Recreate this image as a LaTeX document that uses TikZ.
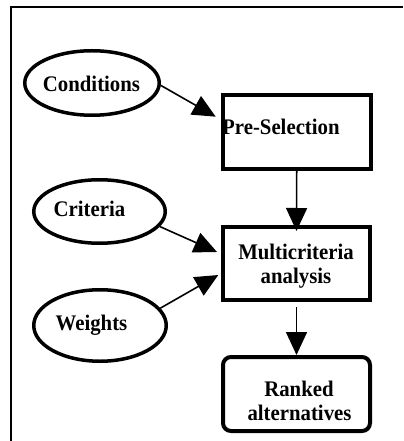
\documentclass[tikz,border=0pt]{standalone}
\usepackage{fontspec}
\setmainfont{Liberation Serif}
\usetikzlibrary{shapes.geometric,arrows.meta}
\newcommand{\tallt}[1]{\scalebox{1}[1.07]{#1}}
\begin{document}
\begin{tikzpicture}[x=1bp,y=-1bp,
 oval/.style={ellipse,draw,line width=3.5bp,inner sep=0pt},
 boxnode/.style={rectangle,draw,line width=4bp,inner sep=0pt,minimum width=147bp,minimum height=73.5bp},
 lbl/.style={font=\fontsize{20.8bp}{25bp}\selectfont\bfseries,inner sep=0pt,anchor=base},
 arr/.style={line width=1.6bp,-{Triangle[length=23bp,width=21bp]}}]
\useasboundingbox (0,0) rectangle (403,441);
\draw[line width=2bp] (11,441) -- (11,6.8) -- (403,6.8);
% ellipses
\node[oval,minimum width=134.5bp,minimum height=64.5bp] (cond) at (92,83) {};
\node[oval,minimum width=131.5bp,minimum height=63.5bp] (crit) at (99.5,211.5) {};
\node[oval,minimum width=132.5bp,minimum height=71.5bp] (wgt) at (100,325.5) {};
% boxes
\node[boxnode,minimum width=148bp,minimum height=74bp] (pre) at (296.7,131.7) {};
\node[boxnode,minimum height=73bp] (multi) at (296.5,263.5) {};
\node[boxnode,rounded corners=8bp,minimum height=74bp] (ranked) at (296.5,394) {};
% labels
\node[lbl] (condl) at (91.5,91.7) {\tallt{Conditions}};
\node[lbl,anchor=base west] (prel) at (222,135) {\tallt{Pre-Selection}};
\node[lbl] (critl) at (89.5,216.7) {\tallt{Criteria}};
\node[lbl] (multl1) at (296,259.3) {\tallt{Multicriteria}};
\node[lbl] (multl2) at (296,283.3) {\tallt{analysis}};
\node[lbl] (wgtl) at (91.5,330) {\tallt{Weights}};
\node[lbl] (rankl1) at (299,396) {\tallt{Ranked}};
\node[lbl] (rankl2) at (299.5,420) {\tallt{alternatives}};
% arrows
\draw[arr] (cond.-2) -- ([shift={(-5,-15)}]pre.west);
\draw[arr] (pre.south) -- ([shift={(0,6)}]multi.north);
\draw[arr] (crit.-14) -- ([shift={(-4,-11.5)}]multi.west);
\draw[arr] (wgt.16) -- ([shift={(-2.7,11.5)}]multi.west);
\draw[arr] ([shift={(0,5)}]multi.south) -- (ranked.north);
\end{tikzpicture}
\end{document}
